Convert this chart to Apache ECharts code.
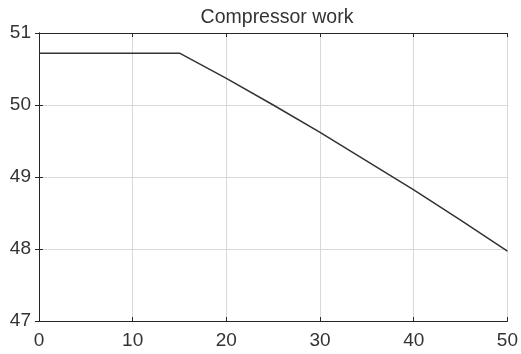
<!DOCTYPE html>
<html>
<head>
<meta charset="utf-8">
<script src="https://cdn.jsdelivr.net/npm/echarts@6/dist/echarts.min.js"></script>
<style>
  html, body { margin: 0; padding: 0; background: #fff; }
  #chart { width: 521px; height: 354px; }
</style>
</head>
<body>
<div id="chart"></div>
<script>
// Compressor work versus operating point
const xValues = [0, 5, 10, 15, 20, 25, 30, 35, 40, 45, 50];
const workValues = [50.72, 50.72, 50.72, 50.72, 50.37, 50.00, 49.62, 49.22, 48.82, 48.40, 47.97];
const xTicks = { min: 0, max: 50, step: 10 };
const yTicks = { min: 47, max: 51, step: 1 };

const axisColor = '#262626';
const gridColor = '#d9d9d9';
const font = 'Liberation Sans, Arial, Helvetica, sans-serif';

const points = xValues.map((x, i) => [x, workValues[i]]);

const tickStyle = { show: true, inside: true, length: 4, lineStyle: { color: axisColor, width: 1 } };
const lineStyle = { show: true, lineStyle: { color: axisColor, width: 1 } };

const chart = echarts.init(document.getElementById('chart'), null, { renderer: 'canvas' });
chart.setOption({
  animation: false,
  backgroundColor: '#ffffff',
  title: {
    text: 'Compressor work',
    left: 272,
    textAlign: 'center',
    top: 3,
    textStyle: { fontFamily: font, fontSize: 19.5, fontWeight: 'normal', color: '#333333' }
  },
  grid: { left: 39, right: 11, top: 33, bottom: 33, containLabel: false },
  xAxis: [
    {
      type: 'value', position: 'bottom',
      min: xTicks.min, max: xTicks.max, interval: xTicks.step,
      axisLine: lineStyle, axisTick: tickStyle,
      axisLabel: { color: '#333333', fontFamily: font, fontSize: 19, margin: 10 },
      splitLine: { show: true, lineStyle: { color: gridColor, width: 1 } }
    },
    {
      type: 'value', position: 'top',
      min: xTicks.min, max: xTicks.max, interval: xTicks.step,
      axisLine: lineStyle, axisTick: tickStyle,
      axisLabel: { show: false }, splitLine: { show: false }
    }
  ],
  yAxis: [
    {
      type: 'value', position: 'left',
      min: yTicks.min, max: yTicks.max, interval: yTicks.step,
      axisLine: lineStyle, axisTick: tickStyle,
      axisLabel: { color: '#333333', fontFamily: font, fontSize: 19, margin: 8 },
      splitLine: { show: true, lineStyle: { color: gridColor, width: 1 } }
    },
    {
      type: 'value', position: 'right',
      min: yTicks.min, max: yTicks.max, interval: yTicks.step,
      axisLine: lineStyle, axisTick: tickStyle,
      axisLabel: { show: false }, splitLine: { show: false }
    }
  ],
  series: [
    {
      type: 'line',
      data: points,
      xAxisIndex: 0, yAxisIndex: 0,
      showSymbol: false,
      smooth: false,
      lineStyle: { color: '#333333', width: 1.5 }
    }
  ]
});
</script>
</body>
</html>
